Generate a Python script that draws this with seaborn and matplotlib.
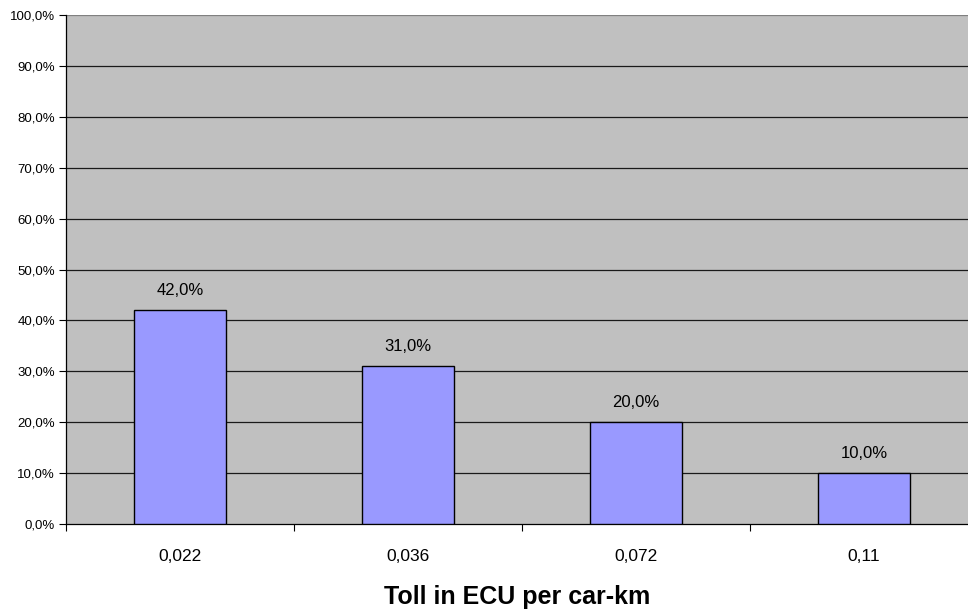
import matplotlib
matplotlib.use("Agg")
import matplotlib.pyplot as plt
import seaborn as sns
import pandas as pd
from matplotlib.ticker import FixedLocator

categories = ["0,022", "0,036", "0,072", "0,11"]
shares = [42.0, 31.0, 20.0, 10.0]
y_ticks = [0, 10, 20, 30, 40, 50, 60, 70, 80, 90, 100]

df = pd.DataFrame({"toll": categories, "share": shares})

sns.set_theme(style="white")
plt.rcParams["font.family"] = ["Liberation Sans", "DejaVu Sans"]
plt.rcParams["text.color"] = "black"
plt.rcParams["axes.labelcolor"] = "black"
plt.rcParams["xtick.color"] = "black"
plt.rcParams["ytick.color"] = "black"

fig = plt.figure(figsize=(9.68, 6.13), dpi=100)
ax = fig.add_axes([66 / 968, 89 / 613, (968 - 66) / 968, (524 - 15) / 613])
ax.set_facecolor("#C0C0C0")

sns.barplot(data=df, x="toll", y="share", color="#9999FF", width=0.4,
            edgecolor="black", linewidth=1.0, saturation=1, ax=ax, zorder=3)

ax.set_ylim(0, 100)
ax.set_xlim(-0.5, -0.5 + (968 - 66) / 228)

ax.set_yticks(y_ticks)
ax.set_yticklabels([f"{v:.1f}".replace(".", ",") + "%" for v in y_ticks], fontsize=9.5)
for v in y_ticks[1:]:
    ax.axhline(v, color="#1a1a1a" if v < 100 else "#808080", linewidth=0.9, zorder=1)

ax.xaxis.set_minor_locator(FixedLocator([-0.5, 0.5, 1.5, 2.5, 3.5]))
ax.tick_params(axis="x", which="major", length=0, labelsize=12.5, pad=18)
ax.tick_params(axis="x", which="minor", length=5, width=0.8, color="black", direction="out")
ax.tick_params(axis="y", length=5, width=0.8, color="black", direction="out", pad=3)
ax.xaxis.set_ticks_position("bottom")
ax.yaxis.set_ticks_position("left")

for side in ["top", "right"]:
    ax.spines[side].set_visible(False)
ax.spines["left"].set_color("black")
ax.spines["bottom"].set_color("black")
ax.spines["left"].set_linewidth(0.9)
ax.spines["bottom"].set_linewidth(0.9)

for i, v in enumerate(shares):
    ax.annotate(f"{v:.1f}".replace(".", ",") + "%", (i, v), xytext=(0, 9),
                textcoords="offset points", ha="center", va="bottom", fontsize=12,
                color="black", zorder=4)

ax.set_xlabel("Toll in ECU per car-km", fontsize=18, fontweight="bold", labelpad=15)
ax.set_ylabel("")

fig.savefig("out.png", dpi=100)
